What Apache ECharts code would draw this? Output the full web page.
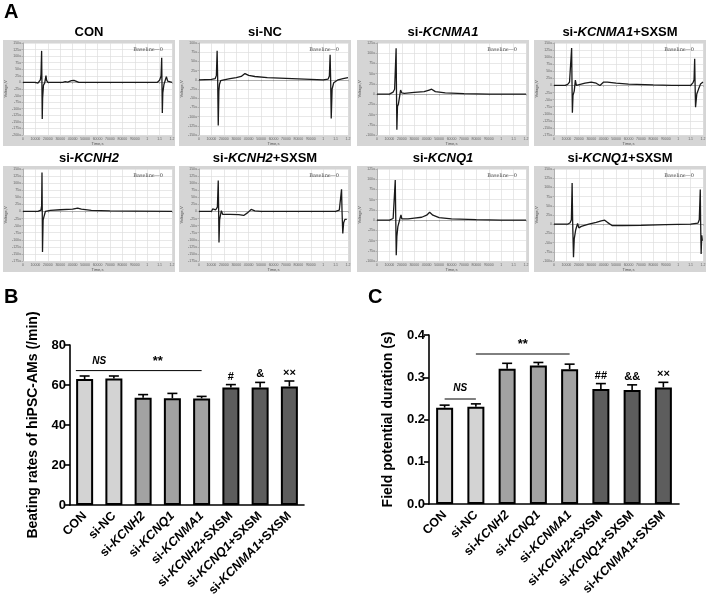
<!DOCTYPE html>
<html><head><meta charset="utf-8">
<script src="https://cdn.jsdelivr.net/npm/echarts/dist/echarts.min.js"></script>
<style>html,body{margin:0;padding:0;background:#fff}#c{width:709px;height:605px}</style>
</head><body><div id="c"></div>
<script>
// ---------- Panel A: field potential traces (x: s, y: µV) ----------
const traceTitles = ['CON','si-NC','si-KCNMA1','si-KCNMA1+SXSM','si-KCNH2','si-KCNH2+SXSM','si-KCNQ1','si-KCNQ1+SXSM'];
const traceYMin = [-200,-150,-100,-175,-175,-175,-100,-100];
const traceYMax = [150,100,125,150,150,150,125,150];
const traceCON = [[0,0],[0.10,0],[0.12,-3],[0.13,2],[0.14,10],[0.145,30],[0.15,120],[0.152,20],[0.155,-139],[0.158,-60],[0.165,-10],[0.175,-2],[0.185,26],[0.19,8],[0.2,0],[0.32,0],[0.34,3],[0.36,1],[0.39,7],[0.41,8],[0.43,4],[0.45,0],[0.8,0],[1.08,0],[1.1,8],[1.112,25],[1.117,94],[1.119,10],[1.122,-116],[1.126,-40],[1.135,-8],[1.145,-2],[1.155,22],[1.165,5],[1.18,0],[1.2,0]];
const traceNC = [[0,0],[0.1,1],[0.13,3],[0.14,12],[0.146,79],[0.15,10],[0.155,-124],[0.16,-30],[0.165,-12],[0.175,-2],[0.2,0],[0.25,3],[0.3,6],[0.34,9],[0.37,17],[0.4,12],[0.45,9],[0.55,6],[0.7,4],[0.85,2],[1.0,0],[1.04,2],[1.05,10],[1.056,68],[1.06,5],[1.065,-105],[1.072,-25],[1.085,-8],[1.1,-4],[1.12,0],[1.16,3],[1.2,6]];
const traceKCNMA1 = [[0,0],[0.1,0],[0.13,5],[0.142,12],[0.15,15],[0.154,112],[0.157,5],[0.16,-87],[0.165,-30],[0.172,-25],[0.18,-10],[0.19,10],[0.2,3],[0.22,2],[0.3,4],[0.38,6],[0.42,10],[0.44,12],[0.47,6],[0.55,3],[0.7,1],[0.9,0],[1.2,0]];
const traceKCNMA1S = [[0,0],[0.09,0],[0.11,4],[0.125,12],[0.138,14],[0.142,132],[0.145,10],[0.148,-96],[0.153,-35],[0.163,-20],[0.172,19],[0.18,0],[0.19,4],[0.25,8],[0.3,12],[0.34,8],[0.37,0],[0.4,12],[0.43,12],[0.5,8],[0.6,5],[0.8,2],[0.95,0],[1.1,0],[1.12,10],[1.128,20],[1.133,94],[1.136,10],[1.14,-77],[1.15,-30],[1.165,-12],[1.18,5],[1.2,12]];
const traceKCNH2 = [[0,0],[0.12,0],[0.145,5],[0.15,20],[0.153,138],[0.155,10],[0.157,-143],[0.162,-30],[0.168,-20],[0.18,0],[0.22,4],[0.3,6],[0.4,8],[0.44,12],[0.47,8],[0.55,4],[0.7,2],[0.9,1],[1.2,0]];
const traceKCNH2S = [[0,0],[0.1,0],[0.11,9],[0.125,12],[0.135,6],[0.148,15],[0.155,109],[0.158,10],[0.161,-110],[0.166,-30],[0.172,-15],[0.18,3],[0.19,-10],[0.25,-10],[0.32,-11],[0.36,-14],[0.39,-5],[0.42,7],[0.45,2],[0.5,0],[1.1,0],[1.13,5],[1.14,12],[1.148,78],[1.152,0],[1.158,-78],[1.165,-40],[1.175,-28],[1.19,-28]];
const traceKCNQ1 = [[0,0],[0.1,0],[0.13,4],[0.14,8],[0.147,98],[0.151,5],[0.155,-86],[0.16,-40],[0.168,-16],[0.178,-18],[0.186,5],[0.193,13],[0.2,3],[0.21,0],[0.25,3],[0.3,5],[0.36,7],[0.4,12],[0.424,19],[0.45,12],[0.5,6],[0.6,3],[0.8,1],[1.0,0],[1.2,0]];
const traceKCNQ1S = [[0,0],[0.11,0],[0.13,4],[0.14,12],[0.146,112],[0.15,10],[0.157,-90],[0.163,-40],[0.175,-15],[0.19,2],[0.2,-10],[0.22,-6],[0.28,0],[0.34,5],[0.38,9],[0.408,11],[0.43,5],[0.47,-4],[0.55,-4],[0.7,-3],[0.9,-1],[1.1,0],[1.16,3],[1.17,12],[1.178,94],[1.181,5],[1.185,-81],[1.19,-30],[1.195,-45]];
const traces = [traceCON, traceNC, traceKCNMA1, traceKCNMA1S, traceKCNH2, traceKCNH2S, traceKCNQ1, traceKCNQ1S];

// ---------- Panels B and C ----------
const categories = ['CON','si-NC','si-KCNH2','si-KCNQ1','si-KCNMA1','si-KCNH2+SXSM','si-KCNQ1+SXSM','si-KCNMA1+SXSM'];
const beatMean = [63.0, 63.2, 53.6, 53.4, 53.3, 58.8, 58.8, 59.3];
const beatErr  = [1.5, 1.3, 1.6, 2.4, 1.0, 1.4, 2.5, 2.7];
const beatMarks = ['', '', '', '', '', '#', '&', '××'];
const fpdMean = [0.228, 0.230, 0.320, 0.328, 0.319, 0.272, 0.270, 0.276];
const fpdErr  = [0.006, 0.007, 0.013, 0.007, 0.012, 0.013, 0.012, 0.012];
const fpdMarks = ['', '', '', '', '', '##', '&&', '××'];
const beatYTicks = [0, 80, 20];
const fpdYTicks = [0, 0.4, 0.1];
// significance brackets: [fromCategory, toCategory, yValue]
const beatSigLines = [[-0.3, 4, 67.2]];
const beatSigText = [['NS', 0.5, 71.8], ['**', 2.5, 71.8]];
const fpdSigLines = [[0, 1, 0.2485], [1, 4, 0.355]];
const fpdSigText = [['NS', 0.5, 0.275], ['**', 2.5, 0.378]];

const groupColor = ['#d3d3d3','#d3d3d3','#a2a2a2','#a2a2a2','#a2a2a2','#5d5d5d','#5d5d5d','#5d5d5d'];

function richName(s){
  const m = s.match(/^(si-)(KCN[A-Z0-9]+)(\+SXSM)?$/);
  if(!m) return '{n|'+s+'}';
  return '{n|'+m[1]+'}{i|'+m[2]+'}'+(m[3]?'{n|'+m[3]+'}':'');
}

const chart = echarts.init(document.getElementById('c'), null, {renderer:'canvas'});
const grids=[], xAxes=[], yAxes=[], series=[], graphics=[];
const FONT = 'Liberation Sans, Arial, sans-serif';

const colL=[3,179,357,534], rowT=[40,166];
traces.forEach((tr,k)=>{
  const r=Math.floor(k/4), c=k%4;
  const bx=colL[c], by=rowT[r];
  graphics.push({type:'rect', z:-10, shape:{x:bx,y:by,width:172,height:106}, style:{fill:'#d5d5d5'}});
  graphics.push({type:'text', z:10, style:{text:richName(traceTitles[k]), x:bx+86, y:by-8, align:'center', verticalAlign:'middle',
    rich:{n:{fontFamily:FONT,fontWeight:'bold',fontSize:13,fill:'#000'}, i:{fontFamily:FONT,fontWeight:'bold',fontStyle:'italic',fontSize:13,fill:'#000'}}}});
  graphics.push({type:'text', z:10, style:{text:'Baseline—0', x:bx+160, y:by+10, align:'right', verticalAlign:'middle', font:'5px DejaVu Serif', fill:'#444'}});
  grids.push({left:bx+20, top:by+3, width:149, height:92, show:true, backgroundColor:'#fff', borderWidth:0});
  xAxes.push({type:'value', gridIndex:k, min:0, max:1.2, interval:0.1, name:'Time,s', nameLocation:'middle', nameGap:6,
    nameTextStyle:{fontSize:4, color:'#555'},
    axisLine:{lineStyle:{color:'#888', width:0.6}}, axisTick:{length:1.5, lineStyle:{color:'#888', width:0.5}},
    axisLabel:{fontSize:3.5, color:'#666', margin:2, formatter:v=> v<1? String(Math.round(v*100000)) : String(+v.toFixed(2))},
    splitLine:{lineStyle:{color:'#dedede', width:0.7}}});
  yAxes.push({type:'value', gridIndex:k, min:traceYMin[k], max:traceYMax[k], interval:25, name:'Voltage,V', nameLocation:'middle', nameGap:13,
    nameTextStyle:{fontSize:4, color:'#555'},
    axisLine:{show:true, lineStyle:{color:'#888', width:0.6}}, axisTick:{show:true, length:1.5, lineStyle:{color:'#888', width:0.5}},
    axisLabel:{fontSize:3.5, color:'#666', margin:2, formatter:v=> v===0?'0':v+'u'},
    splitLine:{lineStyle:{color:'#dedede', width:0.7}}});
  series.push({type:'line', xAxisIndex:k, yAxisIndex:k, data:tr, showSymbol:false, symbol:'none', lineStyle:{color:'#1a1a1a', width:1.3}, animation:false, silent:true});
});

// panel letters
graphics.push({type:'text', style:{text:'A', x:4, y:2, font:'bold 20px '+FONT, fill:'#000'}});
graphics.push({type:'text', style:{text:'B', x:4, y:287, font:'bold 20px '+FONT, fill:'#000'}});
graphics.push({type:'text', style:{text:'C', x:368, y:287, font:'bold 20px '+FONT, fill:'#000'}});

const richLbl = {n:{fontFamily:FONT,fontWeight:'bold',fontSize:12.5,color:'#000'}, i:{fontFamily:FONT,fontWeight:'bold',fontStyle:'italic',fontSize:12.5,color:'#000'}};

function barPanel(gi, left, width, top, height, mean, err, marks, ticks, yName, nameGap, sigLines, sigText, fmt){
  grids.push({left:left, top:top, width:width, height:height});
  xAxes.push({type:'category', gridIndex:gi, data:categories,
    axisLine:{lineStyle:{color:'#000', width:1.6}}, axisTick:{alignWithLabel:true, length:5, lineStyle:{color:'#000', width:1.6}},
    axisLabel:{rotate:45, margin:9, interval:0, formatter:v=>richName(v), rich:richLbl}});
  yAxes.push({type:'value', gridIndex:gi, min:ticks[0], max:ticks[1], interval:ticks[2], name:yName, nameLocation:'middle', nameGap:nameGap,
    nameTextStyle:{fontFamily:FONT, fontWeight:'bold', fontSize:14, color:'#000'},
    axisLine:{show:true, lineStyle:{color:'#000', width:1.6}}, axisTick:{show:true, length:5, lineStyle:{color:'#000', width:1.6}},
    axisLabel:{fontFamily:FONT, fontWeight:'bold', fontSize:13, color:'#000', margin:4, formatter:fmt},
    splitLine:{show:false}});
  series.push({type:'bar', xAxisIndex:gi, yAxisIndex:gi, barWidth:17, animation:false, z:3,
    data:mean.map((m,i)=>({value:m, itemStyle:{color:groupColor[i]}})),
    itemStyle:{borderColor:'#000', borderWidth:2}});
  series.push({type:'custom', xAxisIndex:gi, yAxisIndex:gi, z:2, animation:false, silent:true,
    data:mean.map((m,i)=>[i, m, m+err[i], marks[i]]),
    renderItem:(params, api)=>{
      const p0=api.coord([api.value(0), api.value(1)]);
      const p1=api.coord([api.value(0), api.value(2)]);
      const w=5;
      const ch=[
        {type:'line', shape:{x1:p0[0],y1:p0[1],x2:p1[0],y2:p1[1]}, style:{stroke:'#000', lineWidth:1.6}},
        {type:'line', shape:{x1:p1[0]-w,y1:p1[1],x2:p1[0]+w,y2:p1[1]}, style:{stroke:'#000', lineWidth:1.6}}];
      const mk = marks[params.dataIndex];
      if(mk) ch.push({type:'text', style:{text:mk, x:p1[0], y:p1[1]-8, align:'center', verticalAlign:'middle', font:'bold 11px '+FONT, fill:'#000'}});
      return {type:'group', children:ch};
    }});
  series.push({type:'custom', xAxisIndex:gi, yAxisIndex:gi, z:4, animation:false, silent:true,
    data:sigLines,
    renderItem:(params, api)=>{
      const bw=api.size([1,0])[0];
      const xAt=(f,y)=>{const r=Math.round(f); return api.coord([r,y])[0]+(f-r)*bw;};
      const y=api.value(2), py=api.coord([0,y])[1];
      return {type:'line', shape:{x1:xAt(api.value(0),y), y1:py, x2:xAt(api.value(1),y), y2:py}, style:{stroke:'#000', lineWidth:1}};
    }});
  series.push({type:'custom', xAxisIndex:gi, yAxisIndex:gi, z:4, animation:false, silent:true,
    data:sigText.map(t=>[t[1], t[2], t[0]]),
    renderItem:(params, api)=>{
      const t=sigText[params.dataIndex];
      const bw=api.size([1,0])[0];
      const r=Math.round(t[1]);
      const px=api.coord([r,t[2]]);
      const isNS=t[0]==='NS';
      return {type:'text', style:{text:t[0], x:px[0]+(t[1]-r)*bw, y:px[1], align:'center', verticalAlign:'middle',
        font:(isNS?'italic bold 10px ':'bold 13px ')+FONT, fill:'#000'}};
    }});
}

barPanel(8, 70, 234, 345, 160, beatMean, beatErr, beatMarks, beatYTicks, 'Beating rates of hiPSC-AMs (/min)', 30, beatSigLines, beatSigText, v=>String(v));
barPanel(9, 429, 250, 335, 169, fpdMean, fpdErr, fpdMarks, fpdYTicks, 'Field potential duration (s)', 34, fpdSigLines, fpdSigText, v=>v.toFixed(1));

chart.setOption({animation:false, backgroundColor:'#fff', grid:grids, xAxis:xAxes, yAxis:yAxes, series:series, graphic:graphics});
</script></body></html>
